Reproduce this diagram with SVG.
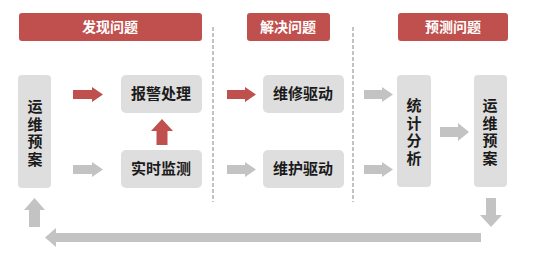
<svg xmlns="http://www.w3.org/2000/svg" width="536" height="260" viewBox="0 0 536 260">
<style>
.hdr{fill:#c0504d;}
.hdrt{fill:#ffffff;font-family:"Noto Sans CJK SC",sans-serif;font-size:14px;font-weight:bold;text-anchor:middle;}
.box{fill:#dedede;}
.t{fill:#1a1a1a;font-family:"Noto Sans CJK SC",sans-serif;font-size:15px;font-weight:bold;text-anchor:middle;}
.v{fill:#1a1a1a;font-family:"Noto Sans CJK SC",sans-serif;font-size:15px;font-weight:bold;text-anchor:middle;writing-mode:vertical-rl;letter-spacing:2.5px;}
.ga{fill:#c3c3c3;}
.ra{fill:#c0504d;}
.dash{stroke:#b0b0b0;stroke-width:1.5;stroke-dasharray:4,2;fill:none;}
</style>
<rect width="536" height="260" fill="#ffffff"/>
<g id="header-find"><rect class="hdr" x="19" y="13" width="183" height="28" rx="3"/><text class="hdrt" x="110" y="32">发现问题</text></g>
<g id="header-solve"><rect class="hdr" x="247" y="13" width="83" height="28" rx="3"/><text class="hdrt" x="288" y="32">解决问题</text></g>
<g id="header-predict"><rect class="hdr" x="398" y="13" width="110" height="28" rx="3"/><text class="hdrt" x="453" y="32">预测问题</text></g>
<g id="dividers"><line class="dash" x1="213" y1="27" x2="213" y2="202"/><line class="dash" x1="353" y1="27" x2="353" y2="202"/></g>
<g id="node-plan-left"><rect class="box" x="18" y="75" width="33" height="113" rx="4"/>
<text class="v" x="35" y="134">运维预案</text></g>
<g id="node-alarm"><rect class="box" x="121" y="75" width="81" height="38" rx="5"/><text class="t" x="161" y="99">报警处理</text></g>
<g id="node-monitor"><rect class="box" x="121" y="150" width="81" height="38" rx="5"/><text class="t" x="161" y="174">实时监测</text></g>
<g id="node-repair"><rect class="box" x="263" y="75" width="81" height="38" rx="5"/><text class="t" x="303" y="99">维修驱动</text></g>
<g id="node-maintain"><rect class="box" x="263" y="150" width="81" height="38" rx="5"/><text class="t" x="303" y="174">维护驱动</text></g>
<g id="node-stats"><rect class="box" x="397" y="75" width="34" height="112" rx="4"/>
<text class="v" x="414" y="133">统计分析</text></g>
<g id="node-plan-right"><rect class="box" x="474" y="75" width="33" height="112" rx="4"/>
<text class="v" x="490" y="133">运维预案</text></g>
<g id="connectors">
<polygon class="ra" points="73,90 92,90 92,87 103,94.5 92,102 92,99 73,99"/>
<polygon class="ga" points="73,165 92,165 92,162 103,169.5 92,177 92,174 73,174"/>
<polygon class="ra" points="156.5,145 156.5,131 151,131 162,119 173,131 167.5,131 167.5,145"/>
<polygon class="ra" points="227,90 245,90 245,87 256,94.5 245,102 245,99 227,99"/>
<polygon class="ga" points="227,165 245,165 245,162 256,169.5 245,177 245,174 227,174"/>
<polygon class="ga" points="364,90 382,90 382,87 393,94.5 382,102 382,99 364,99"/>
<polygon class="ga" points="364,165 382,165 382,162 393,169.5 382,177 382,174 364,174"/>
<polygon class="ga" points="440,127 458,127 458,123 469,132 458,141 458,137 440,137"/>
<polygon class="ga" points="486,198 496,198 496,215 502,215 491,227 480,215 486,215"/>
<polygon class="ga" points="481,233 481,242 56,242 56,247 45,237.5 56,228 56,233"/>
<polygon class="ga" points="29,227 29,210 24,210 34.5,198 45,210 40,210 40,227"/>
</g>
</svg>
